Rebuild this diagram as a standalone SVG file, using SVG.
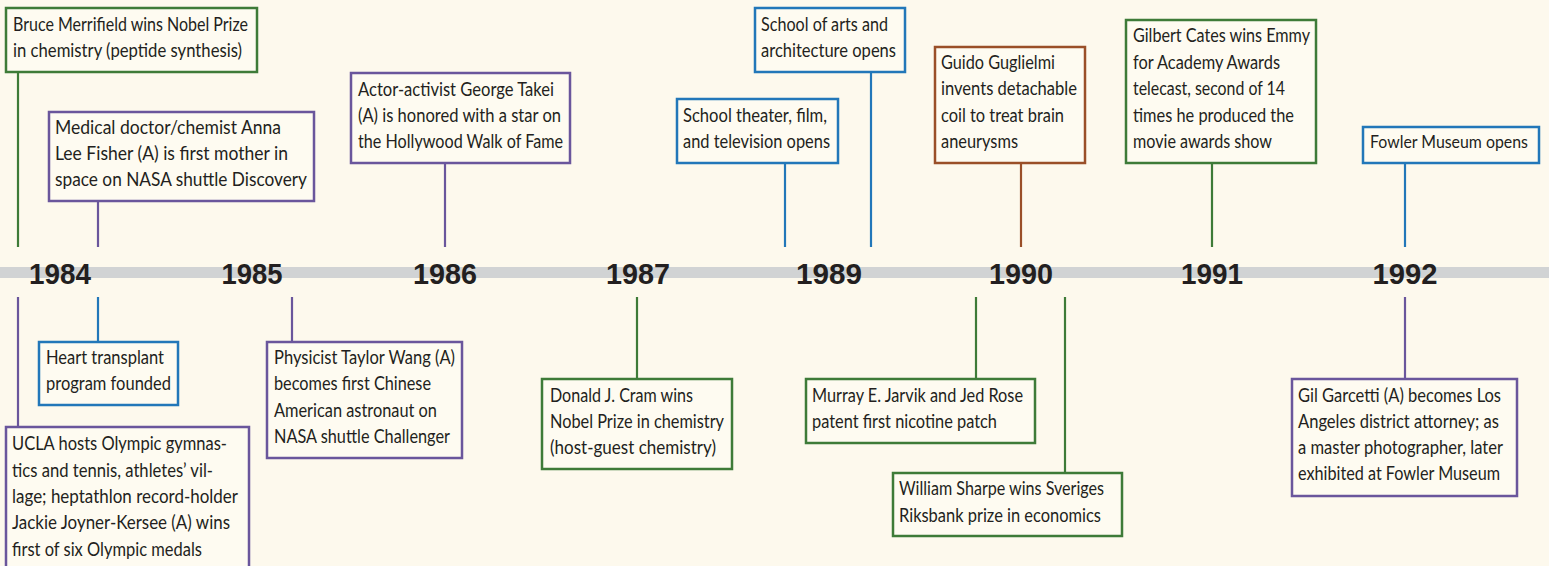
<svg xmlns="http://www.w3.org/2000/svg" width="1549" height="566" viewBox="0 0 1549 566">
<style>
.bg{fill:#fdf9ed}
.bar{fill:#d1d3d4}
.box{fill:#fefbf1;stroke-width:2.5}
.g{stroke:#3e7b38}.p{stroke:#6a569c}.b{stroke:#2277b9}.r{stroke:#9a4f28}
.c{stroke-width:2.2;fill:none}
.t{font-family:Lato,'Liberation Sans',sans-serif;font-size:18.5px;fill:#231f20}
.y{font-family:'Liberation Sans',Arial,sans-serif;font-weight:bold;font-size:30px;fill:#231f20;text-anchor:middle}
</style>
<rect class="bg" x="0" y="0" width="1549" height="566"/>
<rect class="bar" x="0" y="267" width="1549" height="11"/>
<g id="years">
<text class="y" x="60" y="284" textLength="62" lengthAdjust="spacingAndGlyphs">1984</text>
<text class="y" x="252" y="284" textLength="61" lengthAdjust="spacingAndGlyphs">1985</text>
<text class="y" x="445" y="284" textLength="64" lengthAdjust="spacingAndGlyphs">1986</text>
<text class="y" x="638" y="284" textLength="64" lengthAdjust="spacingAndGlyphs">1987</text>
<text class="y" x="829" y="284" textLength="66" lengthAdjust="spacingAndGlyphs">1989</text>
<text class="y" x="1021" y="284" textLength="64" lengthAdjust="spacingAndGlyphs">1990</text>
<text class="y" x="1212" y="284" textLength="62" lengthAdjust="spacingAndGlyphs">1991</text>
<text class="y" x="1405" y="284" textLength="65" lengthAdjust="spacingAndGlyphs">1992</text>
</g>
<g id="connectors">
<line class="c g" x1="18" y1="72" x2="18" y2="247"/>
<line class="c p" x1="98" y1="201" x2="98" y2="247"/>
<line class="c p" x1="445" y1="163" x2="445" y2="247"/>
<line class="c b" x1="785" y1="163" x2="785" y2="247"/>
<line class="c b" x1="871" y1="72" x2="871" y2="247"/>
<line class="c r" x1="1021" y1="163" x2="1021" y2="247"/>
<line class="c g" x1="1212" y1="163" x2="1212" y2="247"/>
<line class="c b" x1="1405" y1="163" x2="1405" y2="247"/>
<line class="c p" x1="18" y1="297" x2="18" y2="427"/>
<line class="c b" x1="98" y1="297" x2="98" y2="342"/>
<line class="c p" x1="292" y1="297" x2="292" y2="342"/>
<line class="c g" x1="637" y1="297" x2="637" y2="379"/>
<line class="c g" x1="976" y1="297" x2="976" y2="379"/>
<line class="c g" x1="1065" y1="297" x2="1065" y2="473"/>
<line class="c p" x1="1405" y1="297" x2="1405" y2="379"/>
</g>
<g id="merrifield">
<rect class="box g" x="6" y="8" width="251" height="64"/>
<text class="t" x="13" y="31" textLength="235" lengthAdjust="spacingAndGlyphs">Bruce Merrifield wins Nobel Prize</text>
<text class="t" x="13" y="57" textLength="229" lengthAdjust="spacingAndGlyphs">in chemistry (peptide synthesis)</text>
</g>
<g id="fisher">
<rect class="box p" x="49" y="112" width="265" height="89"/>
<text class="t" x="55" y="134" textLength="226" lengthAdjust="spacingAndGlyphs">Medical doctor/chemist Anna</text>
<text class="t" x="55" y="160" textLength="233" lengthAdjust="spacingAndGlyphs">Lee Fisher (A) is first mother in</text>
<text class="t" x="55" y="186" textLength="252" lengthAdjust="spacingAndGlyphs">space on NASA shuttle Discovery</text>
</g>
<g id="takei">
<rect class="box p" x="351" y="73" width="219" height="90"/>
<text class="t" x="358" y="96" textLength="196" lengthAdjust="spacingAndGlyphs">Actor-activist George Takei</text>
<text class="t" x="358" y="122" textLength="203" lengthAdjust="spacingAndGlyphs">(A) is honored with a star on</text>
<text class="t" x="358" y="148" textLength="205" lengthAdjust="spacingAndGlyphs">the Hollywood Walk of Fame</text>
</g>
<g id="theater">
<rect class="box b" x="677" y="99" width="161" height="64"/>
<text class="t" x="683" y="122" textLength="144" lengthAdjust="spacingAndGlyphs">School theater, film,</text>
<text class="t" x="683" y="148" textLength="147" lengthAdjust="spacingAndGlyphs">and television opens</text>
</g>
<g id="arts">
<rect class="box b" x="755" y="8" width="150" height="64"/>
<text class="t" x="761" y="31" textLength="127" lengthAdjust="spacingAndGlyphs">School of arts and</text>
<text class="t" x="761" y="57" textLength="135" lengthAdjust="spacingAndGlyphs">architecture opens</text>
</g>
<g id="guglielmi">
<rect class="box r" x="935" y="47" width="150" height="116"/>
<text class="t" x="941" y="69" textLength="114" lengthAdjust="spacingAndGlyphs">Guido Guglielmi</text>
<text class="t" x="941" y="95" textLength="136" lengthAdjust="spacingAndGlyphs">invents detachable</text>
<text class="t" x="941" y="122" textLength="123" lengthAdjust="spacingAndGlyphs">coil to treat brain</text>
<text class="t" x="941" y="148" textLength="77" lengthAdjust="spacingAndGlyphs">aneurysms</text>
</g>
<g id="cates">
<rect class="box g" x="1126" y="20" width="190" height="143"/>
<text class="t" x="1133" y="42" textLength="177" lengthAdjust="spacingAndGlyphs">Gilbert Cates wins Emmy</text>
<text class="t" x="1133" y="69" textLength="147" lengthAdjust="spacingAndGlyphs">for Academy Awards</text>
<text class="t" x="1133" y="95" textLength="152" lengthAdjust="spacingAndGlyphs">telecast, second of 14</text>
<text class="t" x="1133" y="122" textLength="161" lengthAdjust="spacingAndGlyphs">times he produced the</text>
<text class="t" x="1133" y="148" textLength="139" lengthAdjust="spacingAndGlyphs">movie awards show</text>
</g>
<g id="fowler">
<rect class="box b" x="1363" y="127" width="176" height="36"/>
<text class="t" x="1370" y="148" style="font-size:17px" textLength="158" lengthAdjust="spacingAndGlyphs">Fowler Museum opens</text>
</g>
<g id="heart">
<rect class="box b" x="39" y="342" width="139" height="63"/>
<text class="t" x="46" y="364" textLength="118" lengthAdjust="spacingAndGlyphs">Heart transplant</text>
<text class="t" x="46" y="390" textLength="125" lengthAdjust="spacingAndGlyphs">program founded</text>
</g>
<g id="ucla">
<rect class="box p" x="6" y="427" width="243" height="160"/>
<text class="t" x="12" y="450" textLength="215" lengthAdjust="spacingAndGlyphs">UCLA hosts Olympic gymnas-</text>
<text class="t" x="12" y="477" textLength="201" lengthAdjust="spacingAndGlyphs">tics and tennis, athletes’ vil-</text>
<text class="t" x="12" y="503" textLength="226" lengthAdjust="spacingAndGlyphs">lage; heptathlon record-holder</text>
<text class="t" x="12" y="529" textLength="218" lengthAdjust="spacingAndGlyphs">Jackie Joyner-Kersee (A) wins</text>
<text class="t" x="12" y="556" textLength="190" lengthAdjust="spacingAndGlyphs">first of six Olympic medals</text>
</g>
<g id="wang">
<rect class="box p" x="267" y="342" width="195" height="116"/>
<text class="t" x="274" y="364" textLength="181" lengthAdjust="spacingAndGlyphs">Physicist Taylor Wang (A)</text>
<text class="t" x="274" y="390" textLength="157" lengthAdjust="spacingAndGlyphs">becomes first Chinese</text>
<text class="t" x="274" y="417" textLength="163" lengthAdjust="spacingAndGlyphs">American astronaut on</text>
<text class="t" x="274" y="443" textLength="176" lengthAdjust="spacingAndGlyphs">NASA shuttle Challenger</text>
</g>
<g id="cram">
<rect class="box g" x="542" y="379" width="190" height="90"/>
<text class="t" x="550" y="402" textLength="143" lengthAdjust="spacingAndGlyphs">Donald J. Cram wins</text>
<text class="t" x="550" y="428" textLength="174" lengthAdjust="spacingAndGlyphs">Nobel Prize in chemistry</text>
<text class="t" x="550" y="454" textLength="166" lengthAdjust="spacingAndGlyphs">(host-guest chemistry)</text>
</g>
<g id="jarvik">
<rect class="box g" x="806" y="379" width="229" height="64"/>
<text class="t" x="812" y="402" textLength="211" lengthAdjust="spacingAndGlyphs">Murray E. Jarvik and Jed Rose</text>
<text class="t" x="812" y="428" textLength="185" lengthAdjust="spacingAndGlyphs">patent first nicotine patch</text>
</g>
<g id="sharpe">
<rect class="box g" x="893" y="473" width="229" height="63"/>
<text class="t" x="899" y="495" textLength="205" lengthAdjust="spacingAndGlyphs">William Sharpe wins Sveriges</text>
<text class="t" x="899" y="522" textLength="202" lengthAdjust="spacingAndGlyphs">Riksbank prize in economics</text>
</g>
<g id="garcetti">
<rect class="box p" x="1292" y="379" width="225" height="117"/>
<text class="t" x="1298" y="402" textLength="203" lengthAdjust="spacingAndGlyphs">Gil Garcetti (A) becomes Los</text>
<text class="t" x="1298" y="428" textLength="201" lengthAdjust="spacingAndGlyphs">Angeles district attorney; as</text>
<text class="t" x="1298" y="454" textLength="205" lengthAdjust="spacingAndGlyphs">a master photographer, later</text>
<text class="t" x="1298" y="480" textLength="202" lengthAdjust="spacingAndGlyphs">exhibited at Fowler Museum</text>
</g>
</svg>
